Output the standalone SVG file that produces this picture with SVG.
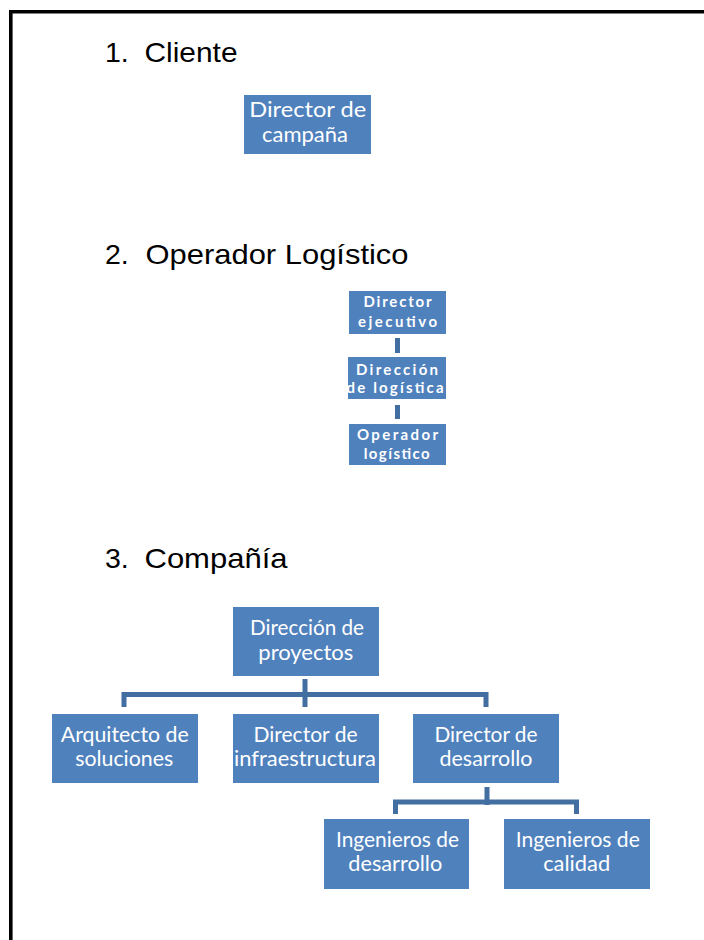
<svg xmlns="http://www.w3.org/2000/svg" width="704" height="940" viewBox="0 0 704 940">
  <style>
    .frame { fill: none; stroke: #000; stroke-width: 3.6; }
    .title { font-family: "Liberation Sans", Arial, sans-serif; font-size: 28.5px; fill: #000; }
    .box { fill: #4F81BD; }
    .lbl { font-family: Lato, "Open Sans", sans-serif; font-size: 21px; fill: #fff; text-anchor: middle; }
    .sm { font-size: 15px; font-weight: bold; }
    .big { font-size: 22px; }
    .conn { fill: none; stroke: #436EA2; stroke-width: 5; stroke-linejoin: miter; }
  </style>

  <!-- page frame -->
  <path class="frame" d="M10.8,940 V11.8 H704"/>

  <!-- section headings -->
  <text class="title" x="105" y="62">1.</text>
  <text class="title" x="144.5" y="62" textLength="93" lengthAdjust="spacingAndGlyphs">Cliente</text>
  <text class="title" x="105" y="263.5">2.</text>
  <text class="title" x="145.5" y="263.5" textLength="263" lengthAdjust="spacingAndGlyphs">Operador Logístico</text>
  <text class="title" x="105" y="568.3">3.</text>
  <text class="title" x="144.5" y="568.3" textLength="143" lengthAdjust="spacingAndGlyphs">Compañía</text>

  <!-- connectors -->
  <g id="connectors">
    <path class="conn" d="M397.5,338 V353"/>
    <path class="conn" d="M397.5,405 V419"/>
    <path class="conn" d="M305,679 V707"/>
    <path class="conn" d="M124,707 V694.5 H486 V707"/>
    <path class="conn" d="M487,787 V805"/>
    <path class="conn" d="M395.5,814 V802 H576.5 V814"/>
  </g>

  <!-- 1. Cliente -->
  <g id="director-campana">
    <rect class="box" x="244" y="95" width="127" height="59"/>
    <text class="lbl big" x="307.7" y="116.7" textLength="117" lengthAdjust="spacingAndGlyphs">Director de</text>
    <text class="lbl big" x="305" y="142" textLength="86" lengthAdjust="spacingAndGlyphs">campaña</text>
  </g>

  <!-- 2. Operador Logístico -->
  <g id="director-ejecutivo">
    <rect class="box" x="349" y="291" width="97" height="43"/>
    <text class="lbl sm" x="397.5" y="307.3" textLength="68">Director</text>
    <text class="lbl sm" x="397.5" y="326.8" textLength="79">ejecutivo</text>
  </g>
  <g id="direccion-logistica">
    <rect class="box" x="348" y="357" width="98" height="42"/>
    <text class="lbl sm" x="397" y="375" textLength="82">Dirección</text>
    <text class="lbl sm" x="395" y="393.3" textLength="97">de logística</text>
  </g>
  <g id="operador-logistico">
    <rect class="box" x="349" y="424" width="97" height="41"/>
    <text class="lbl sm" x="397.5" y="440.3" textLength="81">Operador</text>
    <text class="lbl sm" x="396.7" y="458.8" textLength="66">logístico</text>
  </g>

  <!-- 3. Compañía -->
  <g id="direccion-proyectos">
    <rect class="box" x="233" y="607" width="146" height="69"/>
    <text class="lbl" x="307" y="635" textLength="114" lengthAdjust="spacingAndGlyphs">Dirección de</text>
    <text class="lbl" x="305.8" y="659.5" textLength="95" lengthAdjust="spacingAndGlyphs">proyectos</text>
  </g>
  <g id="arquitecto-soluciones">
    <rect class="box" x="52" y="714" width="146" height="69"/>
    <text class="lbl" x="124.8" y="741.5" textLength="128" lengthAdjust="spacingAndGlyphs">Arquitecto de</text>
    <text class="lbl" x="124.2" y="766" textLength="98" lengthAdjust="spacingAndGlyphs">soluciones</text>
  </g>
  <g id="director-infraestructura">
    <rect class="box" x="233" y="714" width="146" height="69"/>
    <text class="lbl" x="305.5" y="741.5" textLength="104" lengthAdjust="spacingAndGlyphs">Director de</text>
    <text class="lbl" x="305" y="766" textLength="142" lengthAdjust="spacingAndGlyphs">infraestructura</text>
  </g>
  <g id="director-desarrollo">
    <rect class="box" x="413" y="714" width="146" height="69"/>
    <text class="lbl" x="486" y="741.5" textLength="103" lengthAdjust="spacingAndGlyphs">Director de</text>
    <text class="lbl" x="486" y="766" textLength="93" lengthAdjust="spacingAndGlyphs">desarrollo</text>
  </g>
  <g id="ingenieros-desarrollo">
    <rect class="box" x="324" y="819" width="145" height="70"/>
    <text class="lbl" x="397.5" y="846.7" textLength="123" lengthAdjust="spacingAndGlyphs">Ingenieros de</text>
    <text class="lbl" x="395.3" y="870.7" textLength="94" lengthAdjust="spacingAndGlyphs">desarrollo</text>
  </g>
  <g id="ingenieros-calidad">
    <rect class="box" x="504" y="819" width="146" height="70"/>
    <text class="lbl" x="577.8" y="846.7" textLength="124" lengthAdjust="spacingAndGlyphs">Ingenieros de</text>
    <text class="lbl" x="576.7" y="870.7" textLength="67" lengthAdjust="spacingAndGlyphs">calidad</text>
  </g>
</svg>
